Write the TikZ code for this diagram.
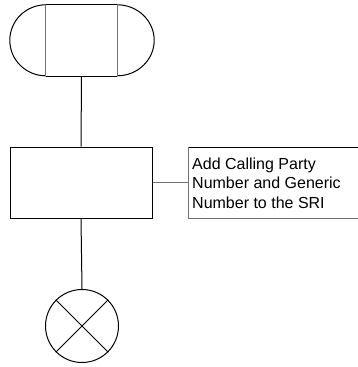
\documentclass[tikz,border=0pt]{standalone}
\usepackage{fontspec}
\setmainfont{Liberation Sans}
\begin{document}
\begin{tikzpicture}[x=1pt,y=-1pt,
  line/.style={line width=1pt,draw=black},
  gline/.style={line width=1pt,draw=black!55},
  boxnode/.style={draw=black,line width=1pt,rectangle,inner sep=0pt},
  cmttext/.style={align=left,inner sep=0pt,font=\fontsize{16}{19.7}\selectfont,anchor=west}]
\useasboundingbox (0,0) rectangle (358,367);
% terminal
\node[rectangle,inner sep=0pt,minimum width=71pt,minimum height=71pt] (term) at (81.5,40.5) {};
\draw[line] (term.south west) -- (term.south east);
\draw[line] (term.north west) -- (term.north east);
\draw[line] (term.north west) arc[start angle=90,end angle=270,x radius=36pt,y radius=35.5pt];
\draw[line] (term.north east) arc[start angle=90,end angle=-90,x radius=37pt,y radius=35.5pt];
\draw[gline] (term.north west) -- (term.south west);
\draw[gline] (term.north east) -- (term.south east);
% task box
\node[boxnode,minimum width=142pt,minimum height=71pt] (task) at (81,182.5) {};
% stop
\node[draw=black,line width=1pt,circle,minimum size=73pt,inner sep=0pt] (stop) at (82,326) {};
\draw[line] (stop.north west) -- (stop.south east);
\draw[line] (stop.north east) -- (stop.south west);
% connectors
\draw[line] (term.south) -- (task.north);
\draw[line] (task.south) -- (stop.north);
% comment
\coordinate (cmtl) at (188,182.5);
\draw[gline] (task.east) -- (cmtl);
\draw[line] (358,147) -- (188,147);
\draw[gline] (188,147) -- (188,218) -- (358,218);
\node[cmttext] (cmt) at (192,183) {Add Calling Party\\Number and Generic\\Number to the SRI};
\end{tikzpicture}
\end{document}
